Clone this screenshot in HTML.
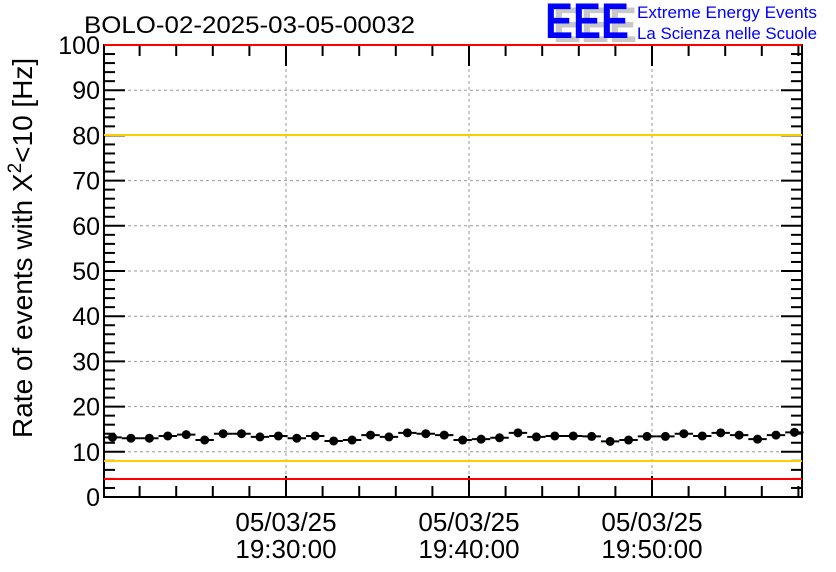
<!DOCTYPE html>
<html><head><meta charset="utf-8"><style>
body{margin:0;background:#fff;}
svg{display:block;font-family:"Liberation Sans",sans-serif;}
</style></head><body>
<svg id="s" width="836" height="572" xmlns="http://www.w3.org/2000/svg">
<rect width="836" height="572" fill="#fff"/>
<g id="grid"></g>
<rect x="104" y="45" width="698" height="452" fill="none" stroke="#000" stroke-width="2"/>
<g id="ticks" stroke="#000" stroke-width="2"></g>
<line x1="104" y1="135" x2="802" y2="135" stroke="#ffcc00" stroke-width="2"/>
<line x1="104" y1="461" x2="802" y2="461" stroke="#ffcc00" stroke-width="2"/>
<line x1="104" y1="479" x2="802" y2="479" stroke="#ff0000" stroke-width="2"/>
<line x1="104" y1="45" x2="802" y2="45" stroke="#ff0000" stroke-width="2"/>
<g id="data"></g>
<g id="lab" font-size="25" fill="#000"></g>
<text x="84" y="33" font-size="24" textLength="331" lengthAdjust="spacingAndGlyphs">BOLO-02-2025-03-05-00032</text>
<text transform="translate(32,438) rotate(-90)" font-size="28">Rate of events with X<tspan dy="-11" font-size="19">2</tspan><tspan dy="11">&lt;10 [Hz]</tspan></text>
<g font-family="Liberation Sans,sans-serif" font-weight="bold" font-size="50">
<text x="553" y="42" fill="#c8c8c8" textLength="84" lengthAdjust="spacingAndGlyphs">EEE</text>
<text x="545" y="38" fill="#0000ff" textLength="84" lengthAdjust="spacingAndGlyphs">EEE</text>
</g>
<text x="637" y="18" font-size="16.5" fill="#0000ff" textLength="180" lengthAdjust="spacingAndGlyphs">Extreme Energy Events</text>
<text x="637" y="39" font-size="16.5" fill="#0000ff" textLength="180" lengthAdjust="spacingAndGlyphs">La Scienza nelle Scuole</text>
</svg>
<script>
const NS="http://www.w3.org/2000/svg";
function el(p,t,a,txt){const e=document.createElementNS(NS,t);for(const k in a)e.setAttribute(k,a[k]);if(txt!=null)e.textContent=txt;document.getElementById(p).appendChild(e);}
const Y=v=>497-v*4.52;
for(let v=10;v<100;v+=10)el("grid","line",{x1:104,x2:802,y1:Y(v),y2:Y(v),stroke:"#999","stroke-dasharray":"3,3"});
[286,469,652].forEach(x=>el("grid","line",{x1:x,x2:x,y1:45,y2:497,stroke:"#999","stroke-dasharray":"3,3"}));
for(let v=0;v<=100;v+=2){const L=v%10==0?21:11;el("ticks","line",{x1:104,x2:104+L,y1:Y(v),y2:Y(v)});el("ticks","line",{x1:802,x2:802-L,y1:Y(v),y2:Y(v)});}
for(let i=-4;i<=14;i++){const x=286+i*36.6;if(x<105||x>801)continue;const L=i%5==0?21:11;el("ticks","line",{x1:x,x2:x,y1:497,y2:497-L});el("ticks","line",{x1:x,x2:x,y1:45,y2:45+L});}
for(let v=0;v<=100;v+=10)el("lab","text",{x:100,y:Y(v)+9,"text-anchor":"end"},v);
[286,469,652].forEach(x=>{el("lab","text",{x:x,y:531,"text-anchor":"middle","font-size":26},"05/03/25");el("lab","text",{x:x,y:558,"text-anchor":"middle","font-size":26},"19:"+(x==286?"30":x==469?"40":"50")+":00");});
const d=[13.2,13,13,13.5,13.8,12.6,14,14,13.3,13.5,13,13.5,12.4,12.6,13.7,13.3,14.2,14,13.7,12.6,12.8,13.1,14.2,13.3,13.5,13.5,13.4,12.3,12.6,13.4,13.4,14,13.5,14.2,13.7,12.8,13.7,14.3];
d.forEach((v,i)=>{const x=112.5+i*18.43,y=Y(v);el("data","line",{x1:x-9.2,x2:x+9.2,y1:y,y2:y,stroke:"#000","stroke-width":2});el("data","circle",{cx:x,cy:y,r:4.5,fill:"#000"});});
</script>
</body></html>
